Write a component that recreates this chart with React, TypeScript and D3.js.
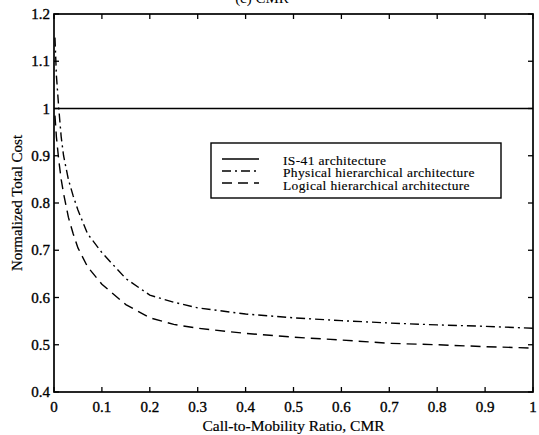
import React from "react";
import * as d3 from "d3";

// CMR sample points (x) and normalized costs
const cmr = [0.002, 0.005, 0.01, 0.015, 0.02, 0.03, 0.04, 0.05, 0.07, 0.1, 0.15, 0.2, 0.25, 0.3, 0.4, 0.5, 0.6, 0.7, 0.8, 0.9, 1.0];
const is41 = [1, 1];
const physical = [1.15, 1.07, 1.0, 0.94, 0.9, 0.85, 0.815, 0.785, 0.735, 0.695, 0.64, 0.605, 0.59, 0.578, 0.565, 0.557, 0.551, 0.546, 0.542, 0.539, 0.535];
const logical = [0.985, 0.94, 0.89, 0.85, 0.82, 0.77, 0.735, 0.705, 0.665, 0.628, 0.585, 0.557, 0.543, 0.535, 0.524, 0.516, 0.51, 0.503, 0.5, 0.496, 0.493];

const xTicks = [0, 0.1, 0.2, 0.3, 0.4, 0.5, 0.6, 0.7, 0.8, 0.9, 1];
const yTicks = [0.4, 0.5, 0.6, 0.7, 0.8, 0.9, 1, 1.1, 1.2];

const seriesNames = ["IS-41 architecture", "Physical hierarchical architecture", "Logical hierarchical architecture"];
const dashes = ["none", "9,4,2,4", "10,6"];

const W = 539;
const H = 435;
const m = { left: 54, right: 6, top: 14, bottom: 43 };

const App = () => {
  const x = d3.scaleLinear().domain([0, 1]).range([m.left, W - m.right]);
  const y = d3.scaleLinear().domain([0.4, 1.2]).range([H - m.bottom, m.top]);

  const line = d3
    .line<number>()
    .x((d, i) => x(cmr[i]))
    .y((d) => y(d));

  // IS-41 is flat over the whole CMR range
  const flat = d3
    .line<number>()
    .x((d, i) => x(i === 0 ? 0 : 1))
    .y((d) => y(d));

  const font = "'Liberation Serif', 'Times New Roman', serif";
  const [x0, x1] = x.range();
  const [y0, y1] = y.range();
  const ink = { fill: "#000", stroke: "#000", strokeWidth: 0.35 };

  return (
    <svg width={W} height={H} style={{ position: "absolute", left: 0, top: 0, background: "#fff" }} fontFamily={font}>
      <text x={262} y={3} fontSize={15} textAnchor="middle">(c) CMR</text>

      {/* curves */}
      <path d={flat(is41) || ""} fill="none" stroke="#000" strokeWidth={1.5} />
      <path d={line(physical) || ""} fill="none" stroke="#000" strokeWidth={1.4} strokeDasharray={dashes[1]} />
      <path d={line(logical) || ""} fill="none" stroke="#000" strokeWidth={1.4} strokeDasharray={dashes[2]} />

      {/* frame */}
      <rect x={x0} y={y1} width={x1 - x0} height={y0 - y1} fill="none" stroke="#000" strokeWidth={1.7} />

      {/* ticks */}
      {xTicks.map((t) => (
        <g key={"x" + t}>
          <line x1={x(t)} x2={x(t)} y1={y0} y2={y0 - 5} stroke="#000" strokeWidth={1.3} />
          <line x1={x(t)} x2={x(t)} y1={y1} y2={y1 + 5} stroke="#000" strokeWidth={1.3} />
          <text x={x(t)} y={y0 + 20} fontSize={15} textAnchor="middle" {...ink}>{t}</text>
        </g>
      ))}
      {yTicks.map((t) => (
        <g key={"y" + t}>
          <line x1={x0} x2={x0 + 5} y1={y(t)} y2={y(t)} stroke="#000" strokeWidth={1.3} />
          <line x1={x1} x2={x1 - 5} y1={y(t)} y2={y(t)} stroke="#000" strokeWidth={1.3} />
          <text x={x0 - 4} y={y(t) + 5} fontSize={15} textAnchor="end" {...ink}>{t}</text>
        </g>
      ))}

      {/* axis titles */}
      <text x={(x0 + x1) / 2} y={431} fontSize={15.5} textAnchor="middle" {...ink} strokeWidth={0.2}>Call-to-Mobility Ratio, CMR</text>
      <text transform={`translate(22,${(y0 + y1) / 2}) rotate(-90)`} fontSize={15} textAnchor="middle" {...ink} strokeWidth={0.2}>Normalized Total Cost</text>

      {/* legend */}
      <rect x={211} y={143} width={290} height={55} fill="#fff" stroke="#000" strokeWidth={1.4} />
      {seriesNames.map((n, i) => (
        <g key={n}>
          <line x1={222} x2={259} y1={159 + i * 12} y2={159 + i * 12} stroke="#000" strokeWidth={1.4} strokeDasharray={dashes[i]} />
          <text x={283} y={164.5 + i * 12.5} fontSize={13.5} letterSpacing={0.35} {...ink} strokeWidth={0.15}>{n}</text>
        </g>
      ))}
    </svg>
  );
};

export default App;
